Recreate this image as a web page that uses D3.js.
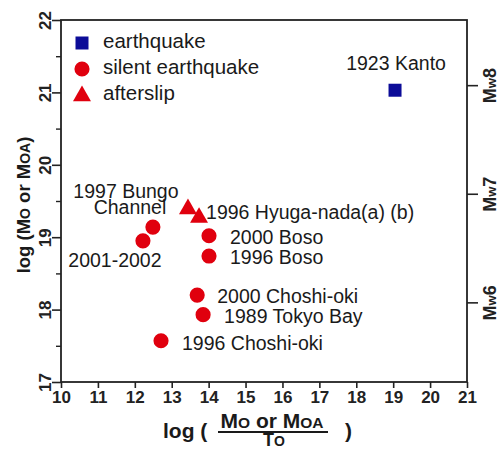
<!DOCTYPE html>
<html>
<head>
<meta charset="utf-8">
<script src="https://cdn.jsdelivr.net/npm/d3@7"></script>
<style>
  html, body { margin: 0; padding: 0; background: #fff; }
  svg { display: block; }
  .tick text { font-family: "Liberation Sans Narrow", "Liberation Sans", Arial, sans-serif; font-weight: bold; font-size: 17px; fill: #222; }
  .lbl { font-family: "Liberation Sans", Arial, sans-serif; font-size: 19.5px; fill: #1a1a1a; }
  .ttl { font-family: "Liberation Sans", Arial, sans-serif; font-weight: bold; fill: #1a1a1a; }
</style>
</head>
<body>
<script>
// ---- data ----
const eventNames = ["1923 Kanto", "1997 Bungo Channel", "1996 Hyuga-nada(a) (b)", "2001-2002 (a)", "2001-2002 (b)",
                    "2000 Boso", "1996 Boso", "2000 Choshi-oki", "1989 Tokyo Bay", "1996 Choshi-oki"];
const eventTypes = ["earthquake", "afterslip", "afterslip", "silent", "silent",
                    "silent", "silent", "silent", "silent", "silent"];
const logMoOverTo = [19.05, 13.44, 13.74, 12.49, 12.22, 14.01, 14.01, 13.69, 13.85, 12.71];
const logMo       = [21.03, 19.39, 19.27, 19.14, 18.95, 19.02, 18.74, 18.20, 17.93, 17.57];
const xTicks = [10, 11, 12, 13, 14, 15, 16, 17, 18, 19, 20, 21];
const yTicks = [17, 18, 19, 20, 21, 22];
const yMinorTicks = [17.5, 18.5, 19.5, 20.5, 21.5];
const mwLevels = [6, 7, 8];
const legendItems = [
  { type: "earthquake", text: "earthquake" },
  { type: "silent", text: "silent earthquake" },
  { type: "afterslip", text: "afterslip" }
];

// ---- annotation placement (pixel offsets from point) ----
const labels = [
  { i: 0, lines: ["1923 Kanto"], dx: 1, dy: -20, anchor: "middle" },
  { i: 1, lines: ["1997 Bungo", "Channel"], dx: [-62, -58], dy: [-11, 5], anchor: "middle" },
  { i: 2, lines: ["1996 Hyuga-nada(a) (b)"], dx: 7, dy: 1, anchor: "start" },
  { i: 4, lines: ["2001-2002"], dx: -28, dy: 26, anchor: "middle" },
  { i: 5, lines: ["2000 Boso"], dx: 21, dy: 8, anchor: "start" },
  { i: 6, lines: ["1996 Boso"], dx: 21, dy: 8, anchor: "start" },
  { i: 7, lines: ["2000 Choshi-oki"], dx: 20, dy: 8, anchor: "start" },
  { i: 8, lines: ["1989 Tokyo Bay"], dx: 21, dy: 8, anchor: "start" },
  { i: 9, lines: ["1996 Choshi-oki"], dx: 21, dy: 9, anchor: "start" }
];

const W = 500, H = 449;
const colors = { earthquake: "#0c0c98", silent: "#e0000e", afterslip: "#e0000e" };
const symbols = { earthquake: d3.symbolSquare, silent: d3.symbolCircle, afterslip: d3.symbolTriangle };
const sizes = { earthquake: 169, silent: 180, afterslip: 140 };

const svg = d3.select("body").append("svg").attr("width", W).attr("height", H);

const x = d3.scaleLinear().domain([10, 21]).range([61, 467]);
const y = d3.scaleLinear().domain([17, 22]).range([382, 20]);

const axisColor = "#222";

// bottom axis
const gx = svg.append("g").attr("transform", `translate(0,${y(17)})`)
  .call(d3.axisBottom(x).tickValues(xTicks).tickFormat(d3.format("d")).tickSize(6).tickPadding(3));
gx.select(".domain").remove();
gx.selectAll(".tick line").attr("stroke", axisColor).attr("stroke-width", 1.6);

// left axis majors
const gy = svg.append("g").attr("transform", `translate(${x(10)},0)`)
  .call(d3.axisLeft(y).tickValues(yTicks).tickFormat(d3.format("d")).tickSize(9).tickPadding(0));
gy.select(".domain").remove();
gy.selectAll(".tick line").attr("stroke", axisColor).attr("stroke-width", 1.6);
gy.selectAll(".tick text")
  .attr("x", 0).attr("dy", null)
  .attr("text-anchor", "middle")
  .attr("transform", "translate(-10,0) rotate(-90)")
  .attr("y", 0);

// left axis minors
const gym = svg.append("g").attr("transform", `translate(${x(10)},0)`)
  .call(d3.axisLeft(y).tickValues(yMinorTicks).tickFormat("").tickSize(5));
gym.select(".domain").remove();
gym.selectAll(".tick line").attr("stroke", axisColor).attr("stroke-width", 1.4);

// right axis (Mw)
const mwToLogMo = mw => 1.5 * mw + 9.1;
const gr = svg.append("g").attr("transform", `translate(${x(21)},0)`)
  .call(d3.axisRight(y).tickValues(mwLevels.map(mwToLogMo)).tickFormat("").tickSize(11));
gr.select(".domain").remove();
gr.selectAll(".tick line").attr("stroke", axisColor).attr("stroke-width", 1.6);
gr.selectAll(".tick").each(function(d, k) {
  const t = d3.select(this).append("text")
    .attr("transform", "translate(29,0) rotate(-90)")
    .attr("text-anchor", "middle")
    .attr("fill", "#222")
    .style("font-family", "'Liberation Sans', Arial, sans-serif")
    .style("font-weight", "bold")
    .style("font-size", "18px");
  t.append("tspan").text("M");
  t.append("tspan").style("font-size", "13px").text("w");
  t.append("tspan").text(mwLevels[k]);
});

// frame
svg.append("rect")
  .attr("x", x(10)).attr("y", y(22))
  .attr("width", x(21) - x(10)).attr("height", y(17) - y(22))
  .attr("fill", "none").attr("stroke", axisColor).attr("stroke-width", 1.8);

// y-axis title
const yt = svg.append("text").attr("class", "ttl")
  .attr("transform", `translate(30,${(y(17) + y(22)) / 2 + 4}) rotate(-90)`)
  .attr("text-anchor", "middle").style("font-size", "18.5px");
yt.append("tspan").text("log (M");
yt.append("tspan").style("font-size", "14px").text("O");
yt.append("tspan").text(" or M");
yt.append("tspan").style("font-size", "14px").text("OA");
yt.append("tspan").text(")");

// x-axis title
svg.append("text").attr("class", "ttl").attr("x", 163).attr("y", 438)
  .style("font-size", "21px").text("log (");
const num = svg.append("text").attr("class", "ttl").attr("x", 272).attr("y", 428)
  .attr("text-anchor", "middle").style("font-size", "21px");
num.append("tspan").text("M");
num.append("tspan").style("font-size", "15.5px").text("O");
num.append("tspan").text(" or M");
num.append("tspan").style("font-size", "15.5px").text("OA");
svg.append("line").attr("x1", 218).attr("x2", 328).attr("y1", 432).attr("y2", 432)
  .attr("stroke", "#1a1a1a").attr("stroke-width", 2);
const den = svg.append("text").attr("class", "ttl").attr("x", 274).attr("y", 445.5)
  .attr("text-anchor", "middle").style("font-size", "18px");
den.append("tspan").text("T");
den.append("tspan").style("font-size", "14px").text("O");
svg.append("text").attr("class", "ttl").attr("x", 345).attr("y", 438)
  .style("font-size", "21px").text(")");

// points
const idx = d3.range(eventNames.length);
svg.append("g").selectAll("path").data(idx).join("path")
  .attr("transform", i => `translate(${x(logMoOverTo[i])},${y(logMo[i])})`)
  .attr("d", i => d3.symbol(symbols[eventTypes[i]], sizes[eventTypes[i]])())
  .attr("fill", i => colors[eventTypes[i]]);

// annotations
labels.forEach(l => {
  const px = x(logMoOverTo[l.i]), py = y(logMo[l.i]);
  l.lines.forEach((s, j) => {
    const dx = Array.isArray(l.dx) ? l.dx[j] : l.dx;
    const dy = Array.isArray(l.dy) ? l.dy[j] : l.dy;
    svg.append("text").attr("class", "lbl")
      .attr("x", px + dx).attr("y", py + dy)
      .attr("text-anchor", l.anchor).text(s);
  });
});

// legend
const lg = svg.append("g");
legendItems.forEach((d, k) => {
  const cy = 43 + k * 26;
  lg.append("path")
    .attr("transform", `translate(82,${cy + (d.type === "afterslip" ? 1 : 0)})`)
    .attr("d", d3.symbol(symbols[d.type], sizes[d.type])())
    .attr("fill", colors[d.type]);
  lg.append("text").attr("class", "lbl").attr("x", 103).attr("y", cy + 5)
    .style("font-size", "20.5px").text(d.text);
});
</script>
</body>
</html>
